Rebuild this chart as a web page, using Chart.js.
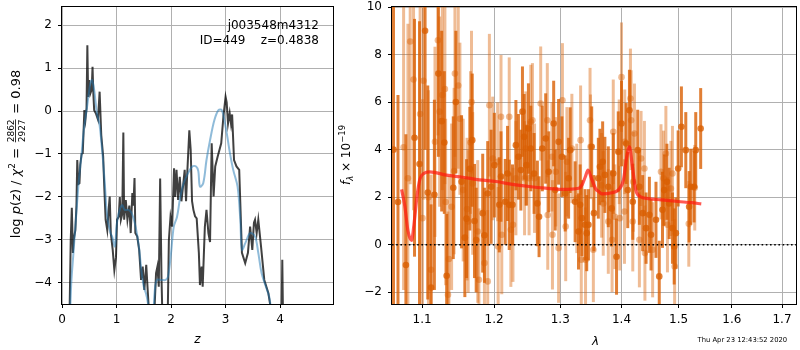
<!DOCTYPE html>
<html><head><meta charset="utf-8">
<script src="https://cdn.jsdelivr.net/npm/chart.js@4/dist/chart.umd.min.js"></script>
<style>
html,body{margin:0;padding:0;background:#fff;}
#wrap{position:relative;width:800px;height:350px;overflow:hidden;}
canvas{position:absolute;top:0;}
</style></head><body>
<div id="wrap"><canvas id="c1" width="336" height="350" style="left:0"></canvas><canvas id="c2" width="464" height="350" style="left:336px"></canvas></div>
<script>
// ---------- left panel: log p(z) ----------
const zBlack = [0.10,0.135,0.16,0.18,0.20,0.215,0.245,0.265,0.28,0.30,0.32,0.335,0.36,0.38,0.395,0.41,0.43,0.45,0.465,0.48,0.50,0.52,0.545,0.56,0.575,0.59,0.62,0.66,0.69,0.72,0.755,0.775,0.80,0.83,0.855,0.875,0.895,0.93,0.96,0.99,1.01,1.04,1.06,1.08,1.105,1.125,1.14,1.17,1.2,1.235,1.26,1.29,1.31,1.33,1.345,1.38,1.415,1.45,1.48,1.51,1.545,1.575,1.61,1.66,1.70,1.725,1.75,1.775,1.80,1.825,1.855,1.93,1.96,1.99,2.02,2.055,2.075,2.10,2.13,2.16,2.19,2.22,2.25,2.275,2.295,2.335,2.36,2.385,2.41,2.44,2.47,2.51,2.53,2.56,2.58,2.62,2.65,2.685,2.715,2.745,2.78,2.81,2.855,2.92,2.96,3.0,3.02,3.045,3.075,3.10,3.12,3.155,3.20,3.25,3.30,3.36,3.41,3.45,3.49,3.52,3.54,3.57,3.60,3.65,3.71,3.785,3.83,3.90,4.02,4.04,4.06];
const logpBlack = [-5.5,-5.0,-3.0,-2.25,-3.3,-3.0,-2.77,-2.2,-1.14,-1.7,-1.68,-1.25,-1.0,-0.98,-0.5,0.02,-0.2,0.06,1.53,0.33,0.72,0.41,0.5,1.03,0.4,0.02,-0.05,-0.2,0.45,-0.56,-1.06,-1.76,-2.53,-2.77,-2.3,-1.99,-2.84,-3.23,-3.7,-3.4,-2.53,-2.46,-2.0,-2.53,-2.4,-0.5,-2.53,-2.07,-2.53,-2.2,-2.84,-1.91,-2.2,-1.56,-2.84,-2.92,-3.23,-3.93,-3.62,-4.16,-3.58,-4.24,-5.0,-5.5,-4.5,-3.77,-3.62,-4.09,-1.57,-3.9,-5.5,-5.5,-3.0,-2.46,-2.69,-1.33,-2.0,-1.37,-2.07,-1.53,-2.1,-1.75,-1.37,-2.1,-1.5,-0.45,-0.9,-2.1,-2.3,-2.45,-2.5,-3.3,-4.05,-3.62,-4.09,-2.69,-2.3,-2.84,-3.05,-0.75,-1.99,-1.29,-1.06,-0.75,-0.13,0.33,0.2,-0.29,-0.05,-0.3,-0.08,-1.14,-1.29,-1.37,-3.3,-3.54,-3.3,-2.69,-3.23,-2.6,-2.53,-2.84,-2.53,-3.15,-3.93,-4.24,-4.6,-5.5,-5.5,-3.46,-5.5];
const zBlue = [0.14,0.17,0.21,0.245,0.31,0.355,0.40,0.46,0.52,0.55,0.59,0.64,0.685,0.73,0.78,0.83,0.89,0.92,0.97,1.0,1.04,1.1,1.15,1.22,1.28,1.35,1.41,1.455,1.50,1.54,1.58,1.62,1.66,1.70,1.74,1.83,1.90,1.945,2.0,2.05,2.11,2.17,2.23,2.31,2.39,2.46,2.50,2.53,2.59,2.65,2.715,2.795,2.87,2.93,3.0,3.08,3.14,3.22,3.27,3.30,3.36,3.45,3.54,3.60,3.66,3.74,3.80,3.83,3.86];
const logpBlue = [-5.0,-4.0,-3.3,-2.69,-1.6,-1.06,-0.44,0.1,0.64,0.72,0.49,-0.05,-0.29,-0.83,-1.6,-2.46,-2.84,-2.92,-3.15,-2.69,-2.38,-2.19,-2.3,-2.3,-2.38,-2.69,-3.15,-3.7,-4.09,-4.24,-4.5,-5.0,-5.0,-4.2,-3.93,-3.93,-3.93,-3.85,-3.3,-2.69,-2.46,-1.99,-1.68,-1.45,-1.29,-1.29,-1.4,-1.76,-1.68,-1.14,-0.68,-0.21,0.02,0.02,-0.36,-0.98,-1.37,-1.76,-2.53,-3.23,-3.08,-2.84,-2.92,-3.3,-3.77,-4.09,-4.32,-4.6,-5.0];
const zTicks = [0,1,2,3,4];
const logpTicks = [-4,-3,-2,-1,0,1,2];
const objName = 'j003548m4312';
const objLine2 = 'ID=449    z=0.4838';

// ---------- right panel: spectrum ----------
const lamDark = [1.0625,1.0683,1.0786,1.0899,1.0965,1.1039,1.1075,1.1119,1.1164,1.1218,
1.1263,1.1299,1.1331,1.1422,1.1458,1.1537,1.1583,1.1607,1.1653,1.1687,
1.1719,1.1743,1.1836,1.1861,1.1908,1.1957,1.2004,1.2076,1.2101,1.2163,
1.2197,1.2222,1.2270,1.2321,1.2359,1.2395,1.2419,1.2444,1.2479,1.2509,
1.2545,1.2595,1.2645,1.2671,1.2721,1.2773,1.2820,1.2897,1.2921,1.2974,
1.3026,1.3078,1.3132,1.3157,1.3236,1.3290,1.3316,1.3343,1.3396,1.3423,
1.3451,1.3504,1.3541,1.3613,1.3639,1.3684,1.3721,1.3778,1.3833,1.3861,
1.3916,1.3945,1.4000,1.4079,1.4106,1.4135,1.4192,1.4277,1.4306,1.4363,
1.4422,1.4480,1.4509,1.4596,1.4654,1.4712,1.4742,1.4790,1.4831,1.4890,
1.4921,1.4951,1.4993,1.5052,1.5132,1.5193,1.5224,1.5284,1.5315,1.5407];
const fluxDark = [4.0,1.8,-0.85,4.5,3.4,9.0,2.2,-1.8,2.1,7.2,
5.2,4.3,-1.3,2.4,6.0,2.65,0.3,1.1,3.2,4.4,
1.0,0.2,1.33,0.4,2.16,2.44,3.35,1.68,2.87,1.81,
3.0,1.68,1.68,4.19,3.7,3.14,5.6,4.54,3.35,4.89,
4.05,3.0,1.74,1.18,4.05,4.47,3.07,5.1,2.3,4.33,
3.7,2.16,2.8,3.98,1.81,0.56,1.68,1.12,0.84,0.49,
0.84,4.12,1.33,2.8,3.28,3.49,2.94,2.44,1.53,3.0,
-0.5,3.91,5.1,4.26,2.3,5.66,1.81,3.98,2.44,1.33,
0.7,1.26,0.42,1.05,-1.33,1.47,2.3,2.65,1.74,0.7,
-0.07,0.49,3.21,4.96,3.98,1.6,2.44,2.44,3.98,4.89];
const errDark = [9,4.5,5.5,5,6,5,4.5,3.5,4,3.5,
3.8,3,2.6,3,3,2.8,2.5,2.5,2.6,2.8,
2.4,2.2,2.5,2.0,2.2,2.4,2.2,2.0,1.9,1.8,
2.0,1.9,1.7,1.9,1.8,1.7,1.9,1.8,1.7,1.9,
1.8,1.7,1.8,1.7,1.8,1.9,1.7,1.8,1.7,1.8,
1.7,1.6,1.7,1.8,1.7,1.6,1.7,1.6,1.5,1.6,
1.5,1.7,1.6,1.7,1.6,1.7,1.6,1.7,1.6,1.7,
1.6,1.7,1.8,1.7,1.6,1.7,1.6,1.7,1.6,1.6,
1.5,1.6,1.5,1.6,1.5,1.6,1.5,1.6,1.5,1.5,
1.6,1.5,1.6,1.7,1.6,1.5,1.6,1.5,1.6,1.7];
const lamLight = [1.0756,1.0812,1.0842,1.0886,1.0973,1.1004,1.1017,1.1084,1.1119,1.1172,
1.1212,1.1235,1.1272,1.1307,1.1317,1.1349,1.1362,1.1399,1.1433,1.1445,
1.1491,1.1514,1.1560,1.1614,1.1630,1.1663,1.1677,1.1694,1.1765,1.1782,
1.1861,1.1908,1.1932,1.1980,1.2052,1.2059,1.2101,1.2112,1.2222,1.2246,
1.2277,1.2321,1.2451,1.2469,1.2519,1.2545,1.2570,1.2602,1.2696,1.2798,
1.2805,1.2870,1.2878,1.2929,1.2974,1.3034,1.3086,1.3105,1.3184,1.3263,
1.3324,1.3335,1.3404,1.3477,1.3485,1.3531,1.3667,1.3694,1.3778,1.3841,
1.3861,1.3888,1.3961,1.3971,1.4000,1.4050,1.4055,1.4152,1.4164,1.4192,
1.4200,1.4221,1.4306,1.4335,1.4393,1.4402,1.4537,1.4685,1.4730,1.4772,
1.4800,1.4862,1.4890,1.4929,1.5187,1.5297];
const fluxLight = [4.1,2.8,8.55,6.95,5.5,1.12,6.9,2.0,-1.05,4.33,
8.6,5.6,6.3,6.55,1.8,-2.1,-0.6,1.6,3.1,7.2,
6.7,5.3,2.3,1.5,0.98,4.3,6.0,2.58,0.56,-1.47,
-0.77,-1.54,5.87,3.63,3.49,-0.07,5.38,0.42,5.38,0.63,
0.84,2.8,2.8,4.05,2.8,5.17,5.24,2.8,5.94,5.24,
1.25,3.7,0.42,3.07,-0.14,6.08,0.77,3.49,4.05,1.95,
4.4,-0.63,-0.63,5.24,4.12,-0.21,2.5,1.74,0.98,0.21,
4.75,1.18,3.91,1.12,7.05,1.4,4.33,6.15,5.24,0.98,
2.65,4.68,0.21,3.63,3.21,-0.35,-0.21,3.07,2.8,3.84,
0.84,2.37,3.0,-0.91,0.88,2.4];
const errLight = [6,6.5,6,5.5,5.5,5,5,4.5,4,4,
4,4,4,4,3.5,3.5,3.5,3.5,3.5,3.5,
3.5,3.2,3,3,3,3,3,3,3,3,
3,3,3,2.6,2.5,2.5,2.6,2.5,2.5,2.4,
2.4,2.4,2.4,2.4,2.4,2.4,2.4,2.3,2.4,2.4,
2.3,2.3,2.3,2.3,2.3,2.4,2.3,2.3,2.3,2.3,
2.3,2.2,2.2,2.2,2.2,2.2,2.2,2.2,2.2,2.2,
2.2,2.2,2.2,2.2,2.3,2.2,2.2,2.1,2.1,2.1,
2.1,2.1,2.0,2.0,2.0,2.0,2.0,2.0,2.0,2.0,
2.0,2.0,2.0,2.0,1.8,1.8];
const lamModel = [1.0730,1.0773,1.0812,1.0860,1.0890,1.0930,1.0969,1.1021,1.1102,1.1327,1.1555,1.1789,1.2029,1.2270,1.2519,1.2773,1.3031,1.3295,1.3348,1.3399,1.3444,1.3509,1.3569,1.3618,1.3672,1.3838,1.3949,1.4033,1.4089,1.4135,1.4186,1.4243,1.4318,1.4462,1.4694,1.4993,1.5235,1.5418];
const fluxModel = [2.33,1.6,0.6,0.18,0.8,2.0,2.75,3.0,3.07,2.93,2.84,2.73,2.66,2.54,2.45,2.38,2.33,2.38,2.52,2.85,3.14,2.73,2.35,2.24,2.14,2.19,2.31,2.73,3.70,4.12,3.28,2.31,2.03,1.94,1.89,1.82,1.77,1.72];
const lamTicks = [1.1,1.2,1.3,1.4,1.5,1.6,1.7];
const fluxTicks = [-2,0,2,4,6,8,10];
const lamRange = [1.0606, 1.729];
const fluxRange = [-2.49, 10];
const stampText = 'Thu Apr 23 12:43:52 2020';

// ---------- helpers ----------
Chart.defaults.font.family = '"DejaVu Sans", sans-serif';
Chart.defaults.font.size = 12;
Chart.defaults.color = '#000';
const FN = '"DejaVu Sans"';
const minus = v => String(v).replace('-', '\u2212');

function gridOpts(){ return {color:'#b0b0b0', lineWidth:1, drawTicks:true, tickLength:4, tickColor:'#000', tickWidth:1}; }
function fixX(h){ return s => { s.height = h; s.paddingLeft = 0; s.paddingRight = 0; s.paddingTop = 0; s.paddingBottom = 0; }; }
function fixY(w){ return s => { s.width = w; s.paddingLeft = 0; s.paddingRight = 0; s.paddingTop = 0; s.paddingBottom = 0; }; }

const framePlugin = {id:'frame', afterDatasetsDraw(chart){
  const a = chart.chartArea, c = chart.ctx;
  c.save(); c.strokeStyle = '#000'; c.lineWidth = 1;
  c.strokeRect(Math.round(a.left)-0.5, Math.round(a.top)-0.5, Math.round(a.right-a.left)+1, Math.round(a.bottom-a.top)+1);
  c.restore();
}};

function segW(ctx, s){
  ctx.font = s.font;
  if (s.frac) return Math.max(ctx.measureText(s.num).width, ctx.measureText(s.den).width) + 2*(s.pad||1.5);
  return ctx.measureText(s.t).width;
}
function drawRich(ctx, cx, cy, segs, rot){
  ctx.save(); ctx.translate(cx, cy); if (rot) ctx.rotate(-Math.PI/2);
  let W = 0; segs.forEach(s => W += segW(ctx, s));
  let x = -W/2;
  ctx.textAlign = 'left'; ctx.textBaseline = 'alphabetic'; ctx.fillStyle = '#000';
  segs.forEach(s => {
    const w = segW(ctx, s);
    ctx.font = s.font;
    if (s.frac) {
      const p = s.pad||1.5, iw = w - 2*p;
      const wn = ctx.measureText(s.num).width, wd = ctx.measureText(s.den).width;
      ctx.fillText(s.num, x + p + (iw-wn)/2, s.ny);
      ctx.fillText(s.den, x + p + (iw-wd)/2, s.dy);
      ctx.fillRect(x + p, s.ly, iw, 0.8);
    } else {
      ctx.fillText(s.t, x, s.dy||0);
    }
    x += w;
  });
  ctx.restore();
}

const leftText = {id:'leftText', afterDraw(chart){
  const c = chart.ctx;
  const n = '13px '+FN, it = 'italic 13px '+FN, sm = '9px '+FN;
  drawRich(c, 20, 154, [
    {t:'log ', font:n}, {t:'p', font:it}, {t:'(', font:n}, {t:'z', font:it}, {t:') / ', font:n},
    {t:'\u03c7', font:it}, {t:'2', font:sm, dy:-5.5}, {t:' = ', font:n},
    {frac:true, num:'2862', den:'2927', font:sm, ny:-6, dy:4.5, ly:-4.8},
    {t:' = 0.98', font:n}
  ], true);
  c.save(); c.fillStyle='#000'; c.textAlign='right'; c.textBaseline='alphabetic'; c.font = '12px '+FN;
  c.fillText(objName, 319, 29); c.fillText(objLine2, 319, 44);
  c.textAlign='center'; c.font = 'italic 12px '+FN; c.fillText('z', 197.5, 343);
  c.restore();
}};

const rightText = {id:'rightText', afterDraw(chart){
  const c = chart.ctx;
  const n = '12px '+FN, it = 'italic 12px '+FN, sm = '8.5px '+FN, smi = 'italic 8.5px '+FN;
  drawRich(c, 14, 155, [
    {t:'f', font:it}, {t:'\u03bb', font:smi, dy:2.5}, {t:' \u00d7 10', font:n}, {t:'\u221219', font:sm, dy:-5}
  ], true);
  c.save(); c.fillStyle='#000'; c.textBaseline='alphabetic';
  c.textAlign='center'; c.font = it; c.fillText('\u03bb', 259.5, 345);
  c.textAlign='left'; c.font = '6.8px '+FN; c.fillText(stampText, 361.5, 342);
  c.restore();
}};

const errBars = {id:'errBars', beforeDatasetDraw(chart, args){
  const ds = chart.data.datasets[args.index];
  if (!ds.errs) return;
  const xs = chart.scales.x, ys = chart.scales.y, c = chart.ctx, a = chart.chartArea;
  c.save(); c.beginPath(); c.rect(a.left, a.top, a.right-a.left, a.bottom-a.top); c.clip();
  c.strokeStyle = ds.errColor; c.lineWidth = ds.errWidth; c.lineCap = 'butt';
  ds.data.forEach((p, i) => {
    const x = xs.getPixelForValue(p.x);
    c.beginPath();
    c.moveTo(x, ys.getPixelForValue(p.y - ds.errs[i]));
    c.lineTo(x, ys.getPixelForValue(p.y + ds.errs[i]));
    c.stroke();
  });
  c.restore();
}};

// ---------- left chart ----------
new Chart(document.getElementById('c1'), {
  type:'line',
  data:{datasets:[
    {label:'blue', data:zBlue.map((z,i)=>({x:z, y:logpBlue[i]})), borderColor:'rgba(31,119,180,0.5)', borderWidth:2, pointRadius:0, tension:0.35, order:0},
    {label:'black', data:zBlack.map((z,i)=>({x:z, y:logpBlack[i]})), borderColor:'rgba(0,0,0,0.75)', borderWidth:2, pointRadius:0, tension:0, order:1}
  ]},
  options:{
    responsive:false, animation:false, events:[],
    layout:{padding:{top:7, right:3, left:0, bottom:0}},
    plugins:{legend:{display:false}, tooltip:{enabled:false}},
    scales:{
      x:{type:'linear', min:0, max:4.97,
         afterBuildTicks:s=>{s.ticks = zTicks.map(v=>({value:v}));},
         afterFit:fixX(46),
         grid:gridOpts(), border:{display:false},
         ticks:{padding:5, maxRotation:0, autoSkip:false, callback:v=>minus(v), font:{size:12}}},
      y:{type:'linear', min:-4.49, max:2.42,
         afterBuildTicks:s=>{s.ticks = logpTicks.map(v=>({value:v}));},
         afterFit:fixY(62),
         grid:gridOpts(), border:{display:false},
         ticks:{padding:6, autoSkip:false, callback:v=>minus(v), font:{size:12}}}
    }
  },
  plugins:[framePlugin, leftText]
});

// ---------- right chart ----------
new Chart(document.getElementById('c2'), {
  type:'scatter',
  data:{datasets:[
    {label:'model', type:'line', data:lamModel.map((l,i)=>({x:l, y:fluxModel[i]})), borderColor:'rgba(255,25,15,0.72)', borderWidth:3.2, pointRadius:0, cubicInterpolationMode:'monotone', order:1},
    {label:'zero', type:'line', data:[{x:lamRange[0], y:0},{x:lamRange[1], y:0}], borderColor:'#000', borderWidth:1.6, borderDash:[1.6,2.6], pointRadius:0, order:2},
    {label:'dark', data:lamDark.map((l,i)=>({x:l, y:fluxDark[i]})), errs:errDark, errColor:'rgba(217,95,2,0.8)', errWidth:3,
     pointRadius:3.3, pointBackgroundColor:'rgba(217,95,2,0.8)', pointBorderWidth:0, order:3},
    {label:'light', data:lamLight.map((l,i)=>({x:l, y:fluxLight[i]})), errs:errLight, errColor:'rgba(217,95,2,0.42)', errWidth:3,
     pointRadius:3.3, pointBackgroundColor:'rgba(217,95,2,0.42)', pointBorderWidth:0, order:4}
  ]},
  options:{
    responsive:false, animation:false, events:[],
    layout:{padding:{top:7, right:1, left:0, bottom:0}},
    plugins:{legend:{display:false}, tooltip:{enabled:false}},
    scales:{
      x:{type:'logarithmic', min:lamRange[0], max:lamRange[1],
         afterBuildTicks:s=>{s.ticks = lamTicks.map(v=>({value:v}));},
         afterFit:fixX(46),
         grid:gridOpts(), border:{display:false},
         ticks:{padding:5, maxRotation:0, autoSkip:false, callback:v=>Number(v).toFixed(1), font:{size:12}}},
      y:{type:'linear', min:fluxRange[0], max:fluxRange[1],
         afterBuildTicks:s=>{s.ticks = fluxTicks.map(v=>({value:v}));},
         afterFit:fixY(56),
         grid:gridOpts(), border:{display:false},
         ticks:{padding:6, autoSkip:false, callback:v=>minus(v), font:{size:12}}}
    }
  },
  plugins:[errBars, framePlugin, rightText]
});
</script>
</body></html>
